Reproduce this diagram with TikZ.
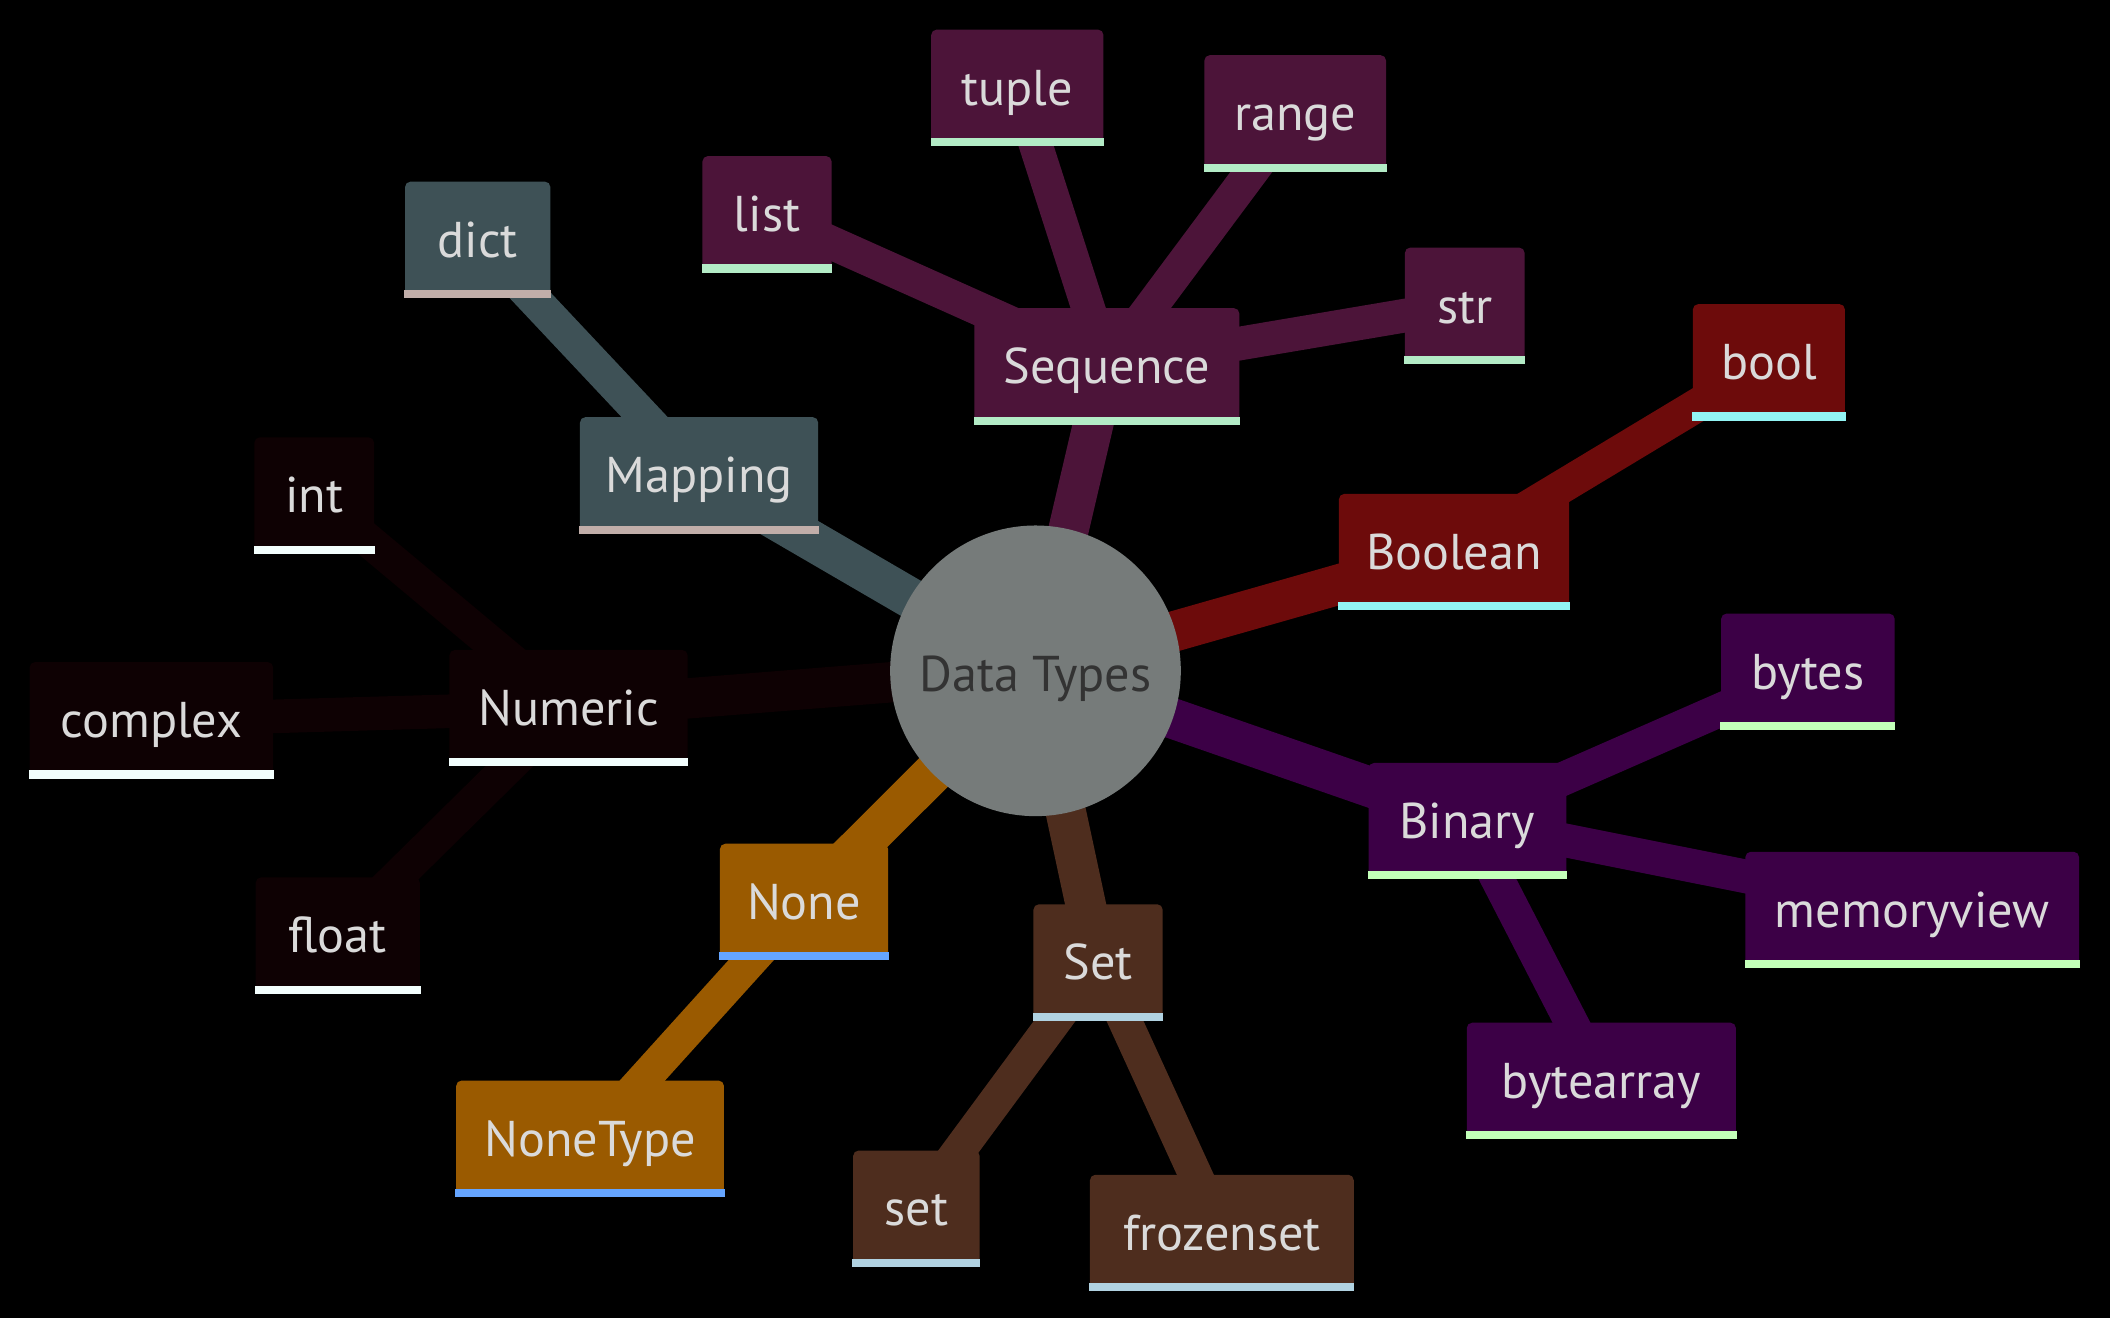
\documentclass[tikz,border=0pt]{standalone}
\usepackage{fontspec}
\setmainfont{PT Sans}
\usetikzlibrary{positioning}

\pgfdeclarelayer{bg}
\pgfdeclarelayer{edges}
\pgfsetlayers{bg,edges,main}

\def\px{0.38286pt}

\definecolor{rootfill}{HTML}{767B7A}
\definecolor{roottext}{HTML}{333333}
\definecolor{nodetext}{HTML}{DADADA}
\definecolor{mapfill}{HTML}{3E5156}
\definecolor{mapline}{HTML}{C1AEA9}
\definecolor{seqfill}{HTML}{4C1439}
\definecolor{seqline}{HTML}{B3EBC6}
\definecolor{boolfill}{HTML}{6D0B0B}
\definecolor{boolline}{HTML}{92F4F4}
\definecolor{binfill}{HTML}{3C0046}
\definecolor{binline}{HTML}{C3FFB9}
\definecolor{setfill}{HTML}{4E2D1E}
\definecolor{setline}{HTML}{B1D2E1}
\definecolor{nonefill}{HTML}{9A5A00}
\definecolor{noneline}{HTML}{65A5FF}
\definecolor{numfill}{HTML}{0E0103}
\definecolor{numline}{HTML}{F2FEFD}

\begin{document}
\begin{tikzpicture}[x=\px,y=-\px,font=\fontsize{14.3}{16}\selectfont,
 sect/.style={rectangle,fill=#1,rounded corners=4*\px,text=nodetext,
   minimum height=86*\px,inner sep=0pt,text height=11.6pt,text depth=1.6pt},
 rootnode/.style={circle,fill=rootfill,text=roottext,minimum size=216*\px,
   inner sep=0pt,text height=12.4pt,text depth=0.8pt},
 lvl1/.style={line width=30*\px},
 lvl2/.style={line width=25*\px}]
\begin{pgfonlayer}{bg}
\fill[black] (0,0) rectangle (1568,979.4);
\end{pgfonlayer}
\useasboundingbox (0,0) rectangle (1568,979.4);

% root
\node[rootnode] (root) at (769.5,498.5) {Data Types};

% sections
\node[sect=seqfill,minimum width=197*\px] (seq) at (822.5,272) {Sequence};
\node[sect=mapfill,minimum width=177*\px] (map) at (519.5,353) {Mapping};
\node[sect=numfill,minimum width=177*\px] (num) at (422.5,526) {Numeric};
\node[sect=boolfill,minimum width=171*\px] (boolean) at (1080.5,410) {Boolean};
\node[sect=binfill,minimum width=147*\px] (bin) at (1090.5,610) {Binary};
\node[sect=nonefill,minimum width=125*\px] (none) at (597.5,670) {None};
\node[sect=setfill,minimum width=96*\px] (setgrp) at (816,715) {Set};

% leaves
\node[sect=seqfill,minimum width=96*\px] (list) at (570,159) {list};
\node[sect=seqfill,minimum width=128*\px] (tuple) at (756,65) {tuple};
\node[sect=seqfill,minimum width=135*\px] (range) at (962.5,84) {range};
\node[sect=seqfill,minimum width=89*\px] (str) at (1088.5,227) {str};
\node[sect=mapfill,minimum width=108*\px] (dict) at (355,178) {dict};
\node[sect=numfill,minimum width=89*\px] (int) at (233.5,368) {int};
\node[sect=numfill,minimum width=181*\px] (complex) at (112.5,535) {complex};
\node[sect=numfill,minimum width=122*\px] (float) at (251,695) {float};
\node[sect=boolfill,minimum width=113*\px] (bool) at (1314.5,269) {bool};
\node[sect=binfill,minimum width=129*\px] (bytes) at (1343.5,499) {bytes};
\node[sect=binfill,minimum width=248*\px] (memview) at (1421,676) {memoryview};
\node[sect=binfill,minimum width=200*\px] (bytearr) at (1190,803) {bytearray};
\node[sect=nonefill,minimum width=199*\px] (nonetype) at (438.5,846) {NoneType};
\node[sect=setfill,minimum width=94*\px] (setleaf) at (681,898) {set};
\node[sect=setfill,minimum width=196*\px] (frozen) at (908,916) {frozenset};

% underlines
\foreach \n/\c in {seq/seqline,list/seqline,tuple/seqline,range/seqline,str/seqline,
  map/mapline,dict/mapline,num/numline,int/numline,complex/numline,float/numline,
  boolean/boolline,bool/boolline,bin/binline,bytes/binline,memview/binline,bytearr/binline,
  none/noneline,nonetype/noneline,setgrp/setline,setleaf/setline,frozen/setline}
  \fill[\c] (\n.south west) rectangle ([yshift=6*\px]\n.south east);

% edges
\begin{pgfonlayer}{edges}
\draw[lvl1,seqfill] (root.center) -- (seq.center);
\draw[lvl1,mapfill] (root.center) -- (map.center);
\draw[lvl1,numfill] (root.center) -- (num.center);
\draw[lvl1,boolfill] (root.center) -- (boolean.center);
\draw[lvl1,binfill] (root.center) -- (bin.center);
\draw[lvl1,nonefill] (root.center) -- (none.center);
\draw[lvl1,setfill] (root.center) -- (setgrp.center);
\draw[lvl2,seqfill] (seq.center) -- (list.center);
\draw[lvl2,seqfill] (seq.center) -- (tuple.center);
\draw[lvl2,seqfill] (seq.center) -- (range.center);
\draw[lvl2,seqfill] (seq.center) -- (str.center);
\draw[lvl2,mapfill] (map.center) -- (dict.center);
\draw[lvl2,numfill] (num.center) -- (int.center);
\draw[lvl2,numfill] (num.center) -- (complex.center);
\draw[lvl2,numfill] (num.center) -- (float.center);
\draw[lvl2,boolfill] (boolean.center) -- (bool.center);
\draw[lvl2,binfill] (bin.center) -- (bytes.center);
\draw[lvl2,binfill] (bin.center) -- (memview.center);
\draw[lvl2,binfill] (bin.center) -- (bytearr.center);
\draw[lvl2,nonefill] (none.center) -- (nonetype.center);
\draw[lvl2,setfill] (setgrp.center) -- (setleaf.center);
\draw[lvl2,setfill] (setgrp.center) -- (frozen.center);
\end{pgfonlayer}
\end{tikzpicture}
\end{document}
